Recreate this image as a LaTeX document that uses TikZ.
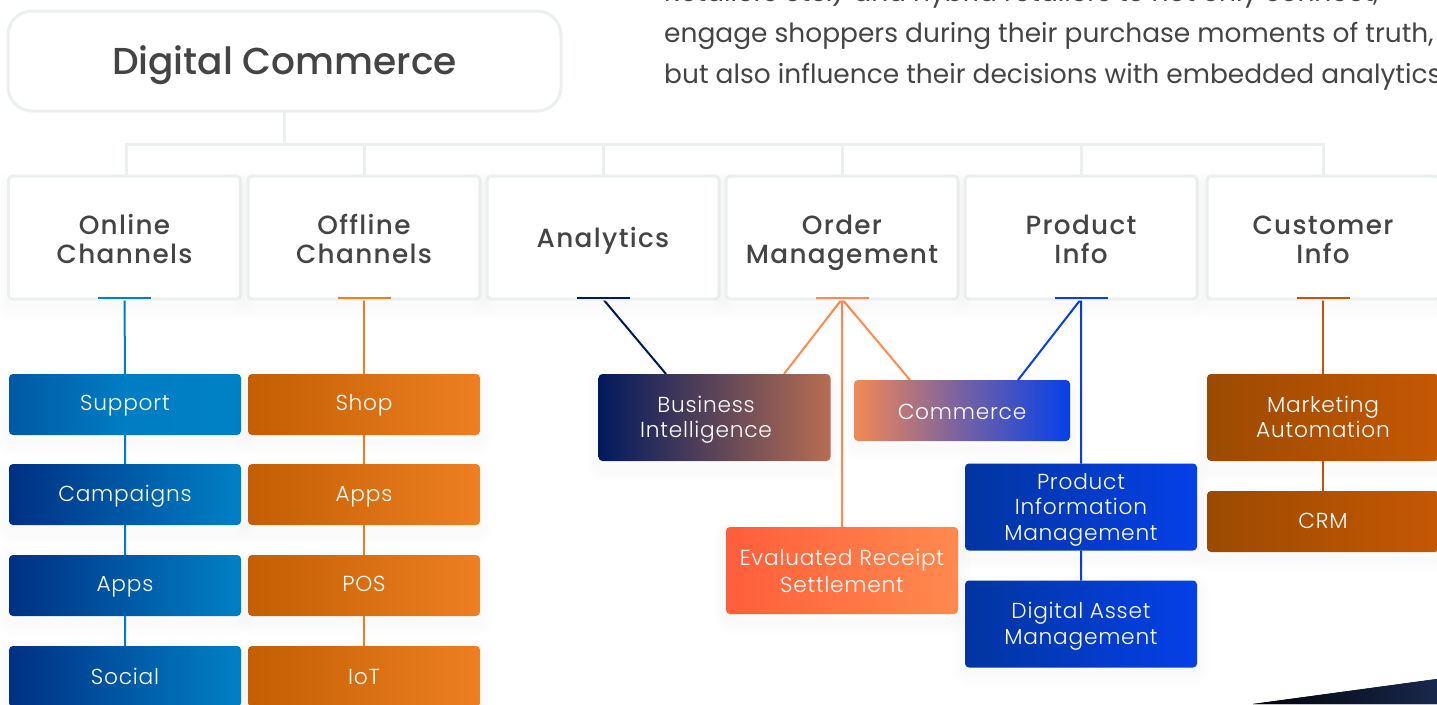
\documentclass[tikz,border=0pt]{standalone}
\usepackage{fontspec}
\setmainfont{Poppins}
\newfontfamily\headf{Poppins}[UprightFont=* Medium]
\newfontfamily\headsp{Poppins}[UprightFont=* Medium,LetterSpace=5]
\newfontfamily\leaff{Poppins}[UprightFont=* Light,LetterSpace=3.5]
\newfontfamily\paraf{Poppins}
\usetikzlibrary{backgrounds}
\definecolor{frame}{HTML}{EBF0EF}
\definecolor{ink}{HTML}{444444}
\definecolor{cOnline}{HTML}{0081C6}
\definecolor{cOffline}{HTML}{EE7F22}
\definecolor{cAna}{HTML}{001A5E}
\definecolor{cOrder}{HTML}{FF8A4F}
\definecolor{cProd}{HTML}{0540E8}
\definecolor{cCust}{HTML}{C2570C}
\tikzset{
  shadowpass/.style={preaction={draw=black,opacity=0.005,line width=#1,line join=round,transform canvas={yshift=-7pt}}},
  softshadow/.style={shadowpass=26pt,shadowpass=21pt,shadowpass=16pt,shadowpass=11pt,shadowpass=6pt},
  tb/.style={text depth=0pt,text height=#1},
  rootbox/.style={draw=frame,line width=3pt,fill=white,rounded corners=24pt,text=ink,font=\headf\fontsize{37.5}{44}\selectfont,minimum width=553pt,minimum height=100pt,inner sep=0pt,outer sep=0pt},
  catbox/.style={draw=frame,line width=3pt,fill=white,rounded corners=4pt,text=ink,align=center,font=\headsp\fontsize{26.3}{29}\selectfont,minimum width=232pt,minimum height=123pt,inner sep=0pt,outer sep=0pt,softshadow},
  leafbox/.style={rounded corners=4pt,text=white,align=center,font=\leaff\fontsize{21.7}{25.5}\selectfont,minimum width=232pt,inner sep=0pt,outer sep=0pt,softshadow},
  short/.style={minimum height=61pt},
  tall/.style={minimum height=87pt},
  para/.style={anchor=base west,text=ink,font=\paraf\fontsize{26.45}{41}\selectfont,inner sep=0pt},
  tree/.style={draw=frame,line width=3pt},
  link/.style={line width=2pt},
  gOn/.style={left color=#1,right color=cOnline},
  gOff/.style={left color=#1,right color=cOffline},
}
\begin{document}
\begin{tikzpicture}[x=1pt,y=-1pt]
\useasboundingbox (0,0) rectangle (1437,704);
\clip (0,0) rectangle (1437,704);
% top nodes
\node[rootbox,tb=26pt] (root) at (284.5,61) {Digital Commerce};
\node[para] (p1) at (664,1.5) {Retailers etc.) and hybrid retailers to not only connect,};
\node[para] (p2) at (664,42) {engage shoppers during their purchase moments of truth,};
\node[para] (p3) at (664,83) {but also influence their decisions with embedded analytics};
% categories
\node[catbox,tb=51.6pt] (online) at (124.5,237.5) {Online\\Channels};
\node[catbox,tb=51.6pt] (offline) at (364,237.5) {Offline\\Channels};
\node[catbox,tb=20pt] (analytics) at (603,237.5) {Analytics};
\node[catbox,tb=51.6pt] (order) at (842,237.5) {Order\\Management};
\node[catbox,tb=51.6pt] (product) at (1081,237.5) {Product\\Info};
\node[catbox,tb=51.6pt] (customer) at (1323,237.5) {Customer\\Info};
% online
\definecolor{onA}{HTML}{0058A4}
\definecolor{onB}{HTML}{003083}
\node[leafbox,short,tb=11pt,left color=onA,right color=cOnline,middle color=cOnline!90!onA] (support) at (125,404.5) {Support};
\node[leafbox,short,tb=13pt,gOn=onB] (campaigns) at (125,494.5) {Campaigns};
\node[leafbox,short,tb=12pt,gOn=onB] (appsA) at (125,585.5) {Apps};
\node[leafbox,short,tb=15pt,gOn=onB] (social) at (125,676.5) {Social};
% offline
\definecolor{offA}{HTML}{C25E03}
\node[leafbox,short,tb=11pt,gOff=offA] (shop) at (364,404.5) {Shop};
\node[leafbox,short,tb=13pt,gOff=offA] (appsB) at (364,494.5) {Apps};
\node[leafbox,short,tb=12pt,gOff=offA] (pos) at (364,585.5) {POS};
\node[leafbox,short,tb=15pt,gOff=offA] (iot) at (364,676.5) {IoT};
% middle
\definecolor{biR}{HTML}{B76E52}
\definecolor{cuL}{HTML}{9C4A02}
\definecolor{cuR}{HTML}{C55803}
\definecolor{deepBlue}{HTML}{0235A0}
\definecolor{ersL}{HTML}{FF5E3A}
\node[leafbox,tall,tb=40.4pt,left color=cAna,right color=biR] (bi) at (714.5,417.5) {Business\hspace*{17pt}\\Intelligence\hspace*{17pt}};
\node[leafbox,short,tb=17pt,minimum width=216pt,left color=cOrder!90!gray,right color=cProd,middle color=cProd!55!cOrder] (commerce) at (962,410.5) {Commerce};
\node[leafbox,tall,tb=43pt,left color=ersL,right color=cOrder] (ers) at (842,570.5) {Evaluated Receipt\\[1.5pt]Settlement};
\node[leafbox,tall,tb=66pt,left color=deepBlue,right color=cProd] (pim) at (1081,507) {Product\\Information\\Management};
\node[leafbox,tall,tb=40pt,left color=deepBlue,right color=cProd] (dam) at (1081,624) {Digital Asset\\Management};
% customer
\node[leafbox,tall,tb=40.5pt,left color=cuL,right color=cuR] (ma) at (1323,417.5) {Marketing\\Automation};
\node[leafbox,short,tb=13pt,left color=cuL,right color=cuR] (crm) at (1323,521.5) {CRM};
% hubs
\coordinate (hub0) at (284.5,144);
\coordinate (hubL) at (126,144);
\coordinate (hubR) at (1323,144);
\begin{scope}[on background layer]
\fill[white] (0,0) rectangle (1437,704);
\fill[left color=black!90!cAna,right color=cAna!60!black!90!white] (1253,704) -- (1437,679) -- (1437,704) -- cycle;
\draw[tree] (root.south) -- (hub0);
\draw[tree] (online.north -| hubL) -- (hubL) -- (hubR) -- (customer.north);
\foreach \n in {offline,analytics,order,product} \draw[tree] (\n.north) -- (\n.north |- hub0);
\draw[link,cOnline] (online.south) -- (support.north) (support.south) -- (campaigns.north) (campaigns.south) -- (appsA.north) (appsA.south) -- (social.north);
\draw[link,cOffline] (offline.south) -- (shop.north) (shop.south) -- (appsB.north) (appsB.south) -- (pos.north) (pos.south) -- (iot.north);
\draw[link,cAna] (analytics.south) -- (bi.north -| 666,0);
\draw[link,cOrder] (order.south) -- (bi.north -| 784,0) (order.south) -- (ers.north) (order.south) -- (commerce.north -| 910,0);
\draw[link,cProd] (product.south) -- (commerce.north -| 1018,0) (product.south) -- (pim.north) (pim.south) -- (dam.north);
\draw[link,cCust] (customer.south) -- (ma.north) (ma.south) -- (crm.north);
\end{scope}
% coloured ticks on category boxes
\foreach \n/\c in {online/cOnline,offline/cOffline,analytics/cAna,order/cOrder,product/cProd,customer/cCust}
  \draw[link,\c] ([xshift=-26.5pt,yshift=1pt]\n.south) -- ([xshift=26.5pt,yshift=1pt]\n.south);
\end{tikzpicture}
\end{document}
